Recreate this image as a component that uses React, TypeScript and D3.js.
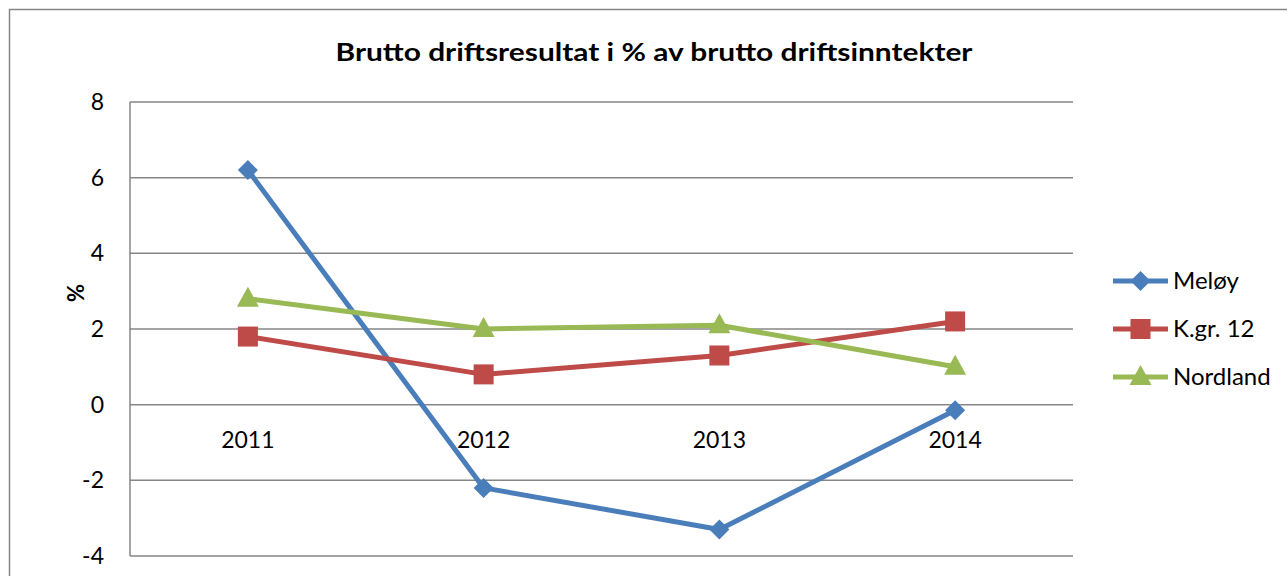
import React from "react";
import * as d3 from "d3";

const categories = ["2011", "2012", "2013", "2014"];
const meloy = [6.2, -2.2, -3.3, -0.15];
const kgr12 = [1.8, 0.8, 1.3, 2.2];
const nordland = [2.8, 2.0, 2.1, 1.0];
const yTicks = [8, 6, 4, 2, 0, -2, -4];
const seriesNames = ["Meløy", "K.gr. 12", "Nordland"];
const seriesColors = ["#4A7EBB", "#BE4B48", "#98B954"];
const title = "Brutto driftsresultat i % av brutto driftsinntekter";

const W = 1287;
const H = 576;
const plot = { left: 130, right: 1073, top: 102, bottom: 556 };
const font = "Lato, 'Open Sans', sans-serif";

function Marker({ type, x, y, color }: { type: number; x: number; y: number; color: string }) {
  if (type === 0) {
    const s = 10;
    return <path d={`M${x},${y - s}L${x + s},${y}L${x},${y + s}L${x - s},${y}Z`} fill={color} />;
  }
  if (type === 1) {
    return <rect x={x - 10} y={y - 10} width={20} height={20} fill={color} />;
  }
  return <path d={`M${x},${y - 12}L${x + 11},${y + 8}L${x - 11},${y + 8}Z`} fill={color} />;
}

export default function App() {
  const x = d3.scaleBand<string>().domain(categories).range([plot.left, plot.right]);
  const y = d3.scaleLinear().domain([-4, 8]).range([plot.bottom, plot.top]);
  const cx = (c: string) => (x(c) as number) + x.bandwidth() / 2;
  const line = d3
    .line<number>()
    .x((_, i) => cx(categories[i]))
    .y((d) => y(d));
  const series = [meloy, kgr12, nordland];
  const legendY = [281, 329, 377];

  return (
    <svg
      width={W}
      height={H}
      style={{ position: "absolute", left: 0, top: 0, background: "#fff" }}
    >
      <rect x={9.5} y={9.5} width={W + 20} height={H + 20} fill="#fff" stroke="#868686" strokeWidth={1.5} />
      <text
        x={654}
        y={61}
        textAnchor="middle"
        fontFamily={font}
        fontWeight="bold"
        fontSize={25}
        textLength={637}
        lengthAdjust="spacingAndGlyphs"
      >
        {title}
      </text>
      {yTicks.map((t) => (
        <g key={t}>
          <line x1={plot.left} x2={plot.right} y1={y(t)} y2={y(t)} stroke="#868686" strokeWidth={1.5} />
          <text x={104} y={y(t) + 8} textAnchor="end" fontFamily={font} fontSize={23} fill="#000">
            {t}
          </text>
        </g>
      ))}
      <line x1={plot.left} x2={plot.left} y1={plot.top} y2={plot.bottom} stroke="#868686" strokeWidth={1.5} />
      {categories.map((c) => (
        <text key={c} x={cx(c)} y={448} textAnchor="middle" fontFamily={font} fontSize={23} fill="#000">
          {c}
        </text>
      ))}
      <text
        transform={`translate(84,${293}) rotate(-90)`}
        textAnchor="middle"
        fontFamily={font}
        fontWeight="bold"
        fontSize={22}
      >
        %
      </text>
      {series.map((s, si) => (
        <g key={si}>
          <path d={line(s) || ""} fill="none" stroke={seriesColors[si]} strokeWidth={5} strokeLinejoin="round" />
          {s.map((v, i) => (
            <Marker key={i} type={si} x={cx(categories[i])} y={y(v)} color={seriesColors[si]} />
          ))}
        </g>
      ))}
      {seriesNames.map((n, si) => (
        <g key={n}>
          <line x1={1113} x2={1168} y1={legendY[si]} y2={legendY[si]} stroke={seriesColors[si]} strokeWidth={5} />
          <Marker type={si} x={1140.5} y={legendY[si]} color={seriesColors[si]} />
          <text x={1173} y={legendY[si] + 8} fontFamily={font} fontSize={24} fill="#000">
            {n}
          </text>
        </g>
      ))}
    </svg>
  );
}
